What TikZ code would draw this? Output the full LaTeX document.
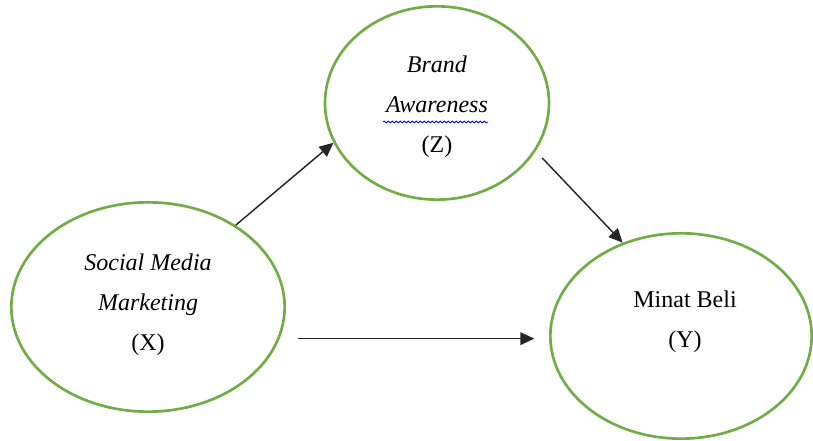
\documentclass[tikz,border=0pt]{standalone}
\usepackage{fontspec}
\setmainfont{Liberation Serif}
\usetikzlibrary{arrows.meta,decorations.pathmorphing,shapes.geometric}
\definecolor{bubblegreen}{RGB}{112,173,71}

\begin{document}
\begin{tikzpicture}[x=0.75pt, y=0.75pt,
    bubble/.style={ellipse, draw=bubblegreen, line width=2pt, inner sep=0pt},
    vartext/.style={align=center, font=\fontsize{18}{30}\selectfont},
    arr/.style={line width=1.1pt, draw=black!85, -{Triangle[length=10.5pt,width=9.5pt]}}]
      \useasboundingbox (0,0) rectangle (813,441);

      %% variables
      \node[bubble, minimum width=205pt, minimum height=157pt] (X) at (148,134) {};
      \node[bubble, minimum width=168pt, minimum height=145pt] (Z) at (437,338) {};
      \node[bubble, minimum width=196pt, minimum height=154pt] (Y) at (681,105) {};

      \node[vartext] (Xtext) at (148,136) {\textit{Social Media}\\\textit{Marketing}\\(X)};
      \node[vartext] (Ztext) at (437,334) {\textit{Brand}\\\textit{Awareness}\\(Z)};
      \node[vartext] (Ytext) at (685,119) {Minat Beli\\(Y)};
      \draw[blue, line width=0.6pt, decoration={snake, segment length=3pt, amplitude=0.7pt}, decorate]
        (383,319) -- (488,319);

      %% paths
      \coordinate (direct) at (X.east |- Y.west);
      \draw[arr] (X.43) -- (Z.201);
      \draw[arr, shorten <=7pt] (Z.334) -- (Y.122);
      \draw[arr] ([xshift=9pt,yshift=-2pt]direct) -- ([xshift=-11pt,yshift=-2pt]Y.west);

\end{tikzpicture}
\end{document}
